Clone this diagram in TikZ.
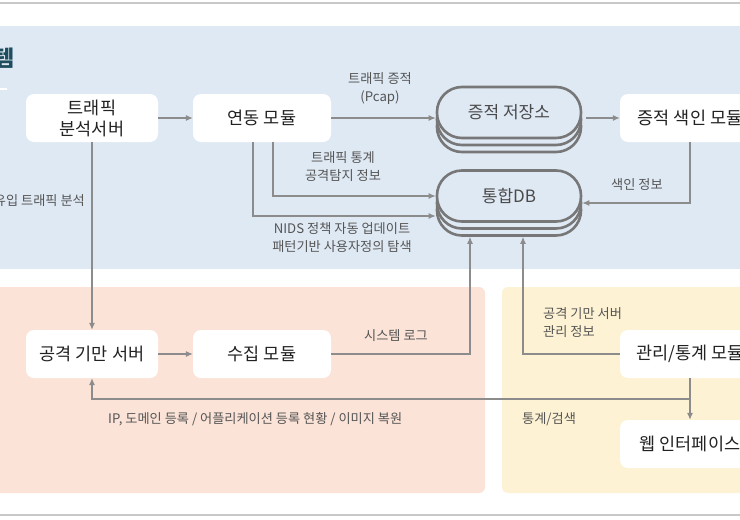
\documentclass[tikz,border=0pt]{standalone}
\usepackage{fontspec}
\setmainfont{Noto Sans CJK KR}
\usetikzlibrary{arrows.meta,calc}
\definecolor{bgblue}{HTML}{DFE9F4}
\definecolor{bgsalmon}{HTML}{FBE3D7}
\definecolor{bgyellow}{HTML}{FDF2D3}
\definecolor{linegray}{HTML}{8C8C8C}
\definecolor{dbgray}{HTML}{777777}
\definecolor{txtdark}{HTML}{222222}
\definecolor{txtgray}{HTML}{555555}
\definecolor{dbtxt}{HTML}{4A4A4A}
\definecolor{titlecol}{HTML}{1E4D5E}
\definecolor{framegray}{HTML}{C8C8C8}
\begin{document}
\begin{tikzpicture}[x=1pt,y=-1pt,
  box/.style={fill=white, rounded corners=8pt, minimum width=#1, minimum height=48pt,
    inner sep=0pt, align=center, font=\fontsize{17.5}{21}\selectfont, text=txtdark},
  box/.default=138pt,
  lbl/.style={font=\fontsize{13.2}{18}\selectfont, text=txtgray, align=center, inner sep=0pt},
  conn/.style={draw=linegray, line width=1.1pt},
  arr/.style={conn, -{Latex[length=7pt,width=6pt]}},
  dbl/.style={draw=dbgray, line width=2.6pt, fill=bgblue, rounded corners=25pt,
    minimum width=144pt, minimum height=51pt, inner sep=0pt,
    font=\fontsize{17}{21}\selectfont, text=dbtxt}
]
\useasboundingbox (0,0) rectangle (740,520);
\clip (0,0) rectangle (740,520);
\fill[white] (0,0) rectangle (740,520);
\draw[framegray, line width=2pt] (0,3) -- (740,3);
\draw[framegray, line width=2pt] (0,515) -- (740,515);
\fill[bgblue] (-10,26) rectangle (760,269);
\fill[bgsalmon, rounded corners=6pt] (-10,287) rectangle (485,493);
\fill[bgyellow, rounded corners=6pt] (502,287) rectangle (770,493);

% title fragment
\node[anchor=east, font=\fontsize{22}{22}\selectfont\bfseries, text=titlecol, inner sep=0pt] (title) at (15,58) {템};
\draw[white, line width=2pt] (0,89) -- (7,89);

% boxes
\node[box=132pt] (tas) at (92,118) {트래픽\\분석서버};
\node[box] (link) at (262,118) {연동 모듈};
\node[box=140pt] (idx) at (690,118) {증적 색인 모듈};
\node[box=132pt] (decoy) at (92,354) {공격 기만 서버};
\node[box] (collect) at (262,354) {수집 모듈};
\node[box=140pt] (mgmt) at (690,354) {관리/통계 모듈};
\node[box=140pt] (web) at (690,444) {웹 인터페이스};

% stacked stores
\node[dbl] (store3) at (509,126.5) {};
\node[dbl] (store2) at (509,119.5) {};
\node[dbl] (store) at (509,112.5) {증적 저장소};
\node[dbl] (db3) at (509,210) {};
\node[dbl] (db2) at (509,203) {};
\node[dbl] (db) at (509,196) {통합DB};

% connectors
\draw[arr] (tas) -- (link);
\draw[arr] (link.east) -- (link.east -| store.west);
\draw[arr] ([xshift=4pt]store.east |- idx.west) -- (idx.west);
\draw[arr] ([xshift=11pt]link.south) |- (db.west);
\draw[arr] ([xshift=-9pt]link.south) |- ([yshift=-20pt]db.west);
\draw[arr] (idx.south) |- ([yshift=-7pt]db.east);
\draw[arr] (tas.south) -- (decoy.north);
\draw[arr] (decoy) -- (collect);
\draw[arr] (collect.east) -| ([xshift=-39pt]db3.south);
\draw[arr] (mgmt.west) -| ([xshift=14pt]db3.south);
\draw[arr] (mgmt.south) -- (web.north);
\coordinate (j) at ($(mgmt.south)!0.5!(web.north)$);
\draw[arr] (j) -| (decoy.south);

% labels
\node[lbl] (l1) at (380,89) {트래픽 증적\\(Pcap)};
\node[lbl] (l2) at (343,167) {트래픽 통계\\공격탐지 정보};
\node[lbl] (l3) at (342,238) {NIDS 정책 자동 업데이트\\패턴기반 사용자정의 탐색};
\node[lbl] (l4) at (637,185) {색인 정보};
\node[lbl, anchor=east] (l5) at (85,201) {유입 트래픽 분석};
\node[lbl] (l6) at (396,336) {시스템 로그};
\node[lbl, anchor=west, align=left] (l7) at (543,323) {공격 기만 서버\\관리 정보};
\node[lbl, anchor=west] (l8) at (108,419) {IP, 도메인 등록 / 어플리케이션 등록 현황 / 이미지 복원};
\node[lbl, anchor=west] (l9) at (522,419) {통계/검색};
\end{tikzpicture}
\end{document}
